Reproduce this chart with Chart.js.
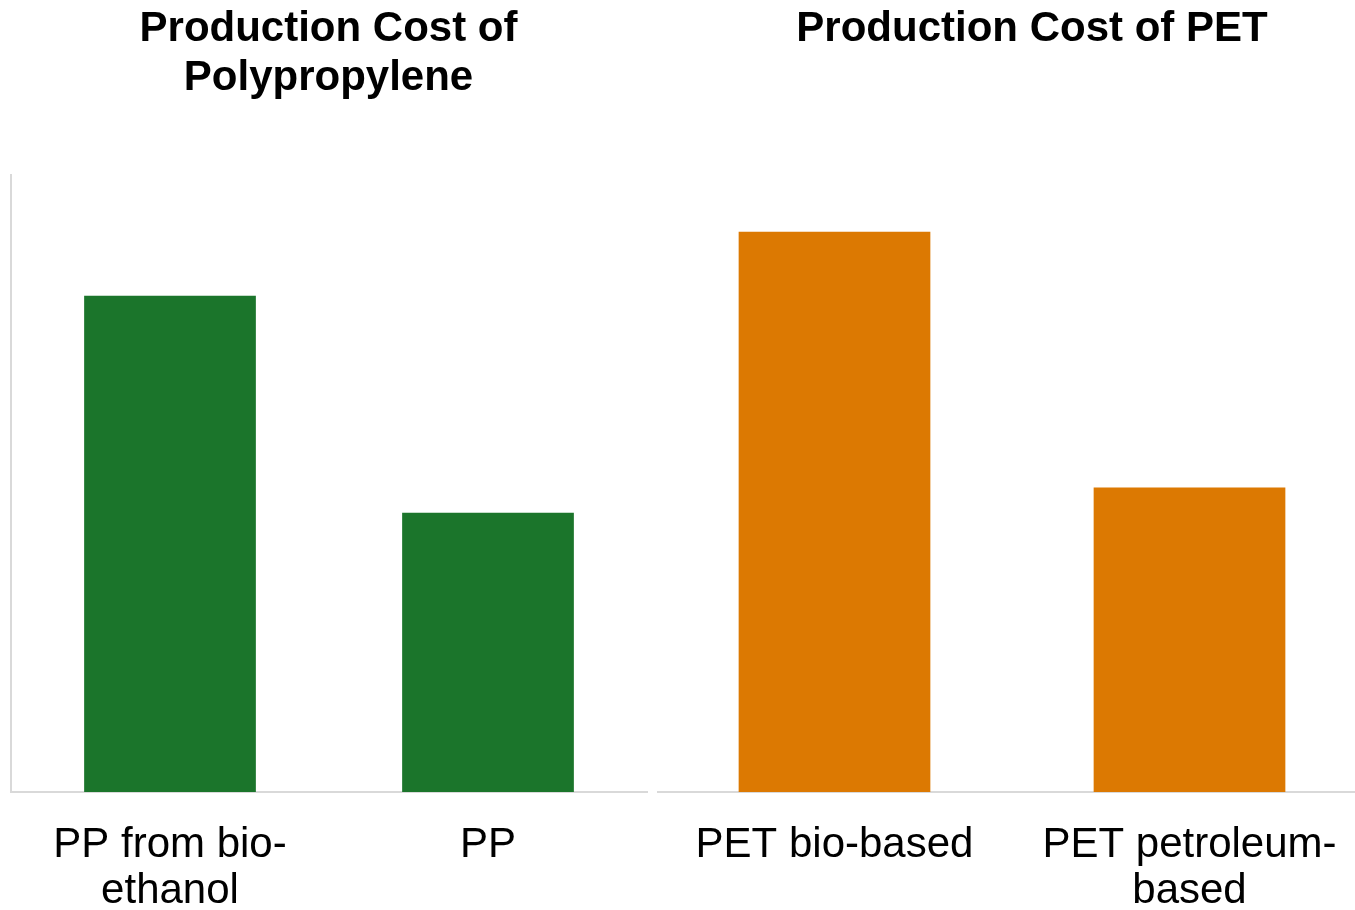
<!DOCTYPE html>
<html>
<head>
<meta charset="utf-8">
<script src="https://cdn.jsdelivr.net/npm/chart.js@4.4.0/dist/chart.umd.min.js"></script>
<style>
  html, body { margin: 0; padding: 0; background: #ffffff; overflow: hidden; width: 1355px; height: 910px; }
  #leftWrap { position: absolute; left: 0; top: 0; width: 660px; height: 910px; }
  #rightWrap { position: absolute; left: 657px; top: 0; width: 750px; height: 910px; }
</style>
</head>
<body>
<div id="leftWrap"><canvas id="ppChart"></canvas></div>
<div id="rightWrap"><canvas id="petChart"></canvas></div>
<script>
// Data (relative production cost, no axis values shown in the original)
const ppCategories = [["PP from bio-", "ethanol"], "PP"];
const ppValues = [1.61, 0.906];
const petCategories = ["PET bio-based", ["PET petroleum-", "based"]];
const petValues = [1.818, 0.988];
const yMax = 2.0;

const ppTitle = ["Production Cost of", "Polypropylene"];
const petTitle = "Production Cost of PET";

const green = "rgb(27,117,43)";
const orange = "rgb(220,121,2)";
const axisGrey = "#d9d9d9";
const fontFamily = "'Liberation Sans', Arial, sans-serif";

Chart.defaults.animation = false;
Chart.defaults.font.family = fontFamily;
Chart.defaults.color = "#000";

function makeOptions(titleText, titlePadBottom, showYAxis, layoutPadding, yPosition, yWidth) {
  return {
    responsive: true,
    maintainAspectRatio: false,
    layout: { padding: layoutPadding },
    plugins: {
      legend: { display: false },
      tooltip: { enabled: false },
      title: {
        display: true,
        text: titleText,
        color: "#000",
        font: { family: fontFamily, size: 42, weight: "bold", lineHeight: 1.16 },
        padding: { top: 5, bottom: titlePadBottom }
      }
    },
    scales: {
      x: {
        grid: { display: false, drawTicks: false },
        border: { display: true, color: axisGrey, width: 2 },
        ticks: {
          color: "#000",
          font: { family: fontFamily, size: 42, lineHeight: 1.1 },
          padding: 30,
          maxRotation: 0,
          autoSkip: false
        },
        afterFit: function(scale) { scale.height = 118; }
      },
      y: {
        position: yPosition,
        min: 0,
        max: yMax,
        grid: { display: false, drawTicks: false },
        border: { display: showYAxis, color: axisGrey, width: 2 },
        ticks: { display: false },
        afterFit: function(scale) { scale.width = yWidth; }
      }
    }
  };
}

new Chart(document.getElementById("ppChart"), {
  type: "bar",
  data: {
    labels: ppCategories,
    datasets: [{
      data: ppValues,
      backgroundColor: green,
      categoryPercentage: 1.0,
      barPercentage: 0.54
    }]
  },
  options: makeOptions(ppTitle, 73, true, { left: 10, right: 13, top: 0, bottom: 0 }, "left", 1)
});

new Chart(document.getElementById("petChart"), {
  type: "bar",
  data: {
    labels: petCategories,
    datasets: [{
      data: petValues,
      backgroundColor: orange,
      categoryPercentage: 1.0,
      barPercentage: 0.54
    }]
  },
  options: makeOptions(petTitle, 122, false, { left: 0, right: 0, top: 0, bottom: 0 }, "right", 40)
});
</script>
</body>
</html>
